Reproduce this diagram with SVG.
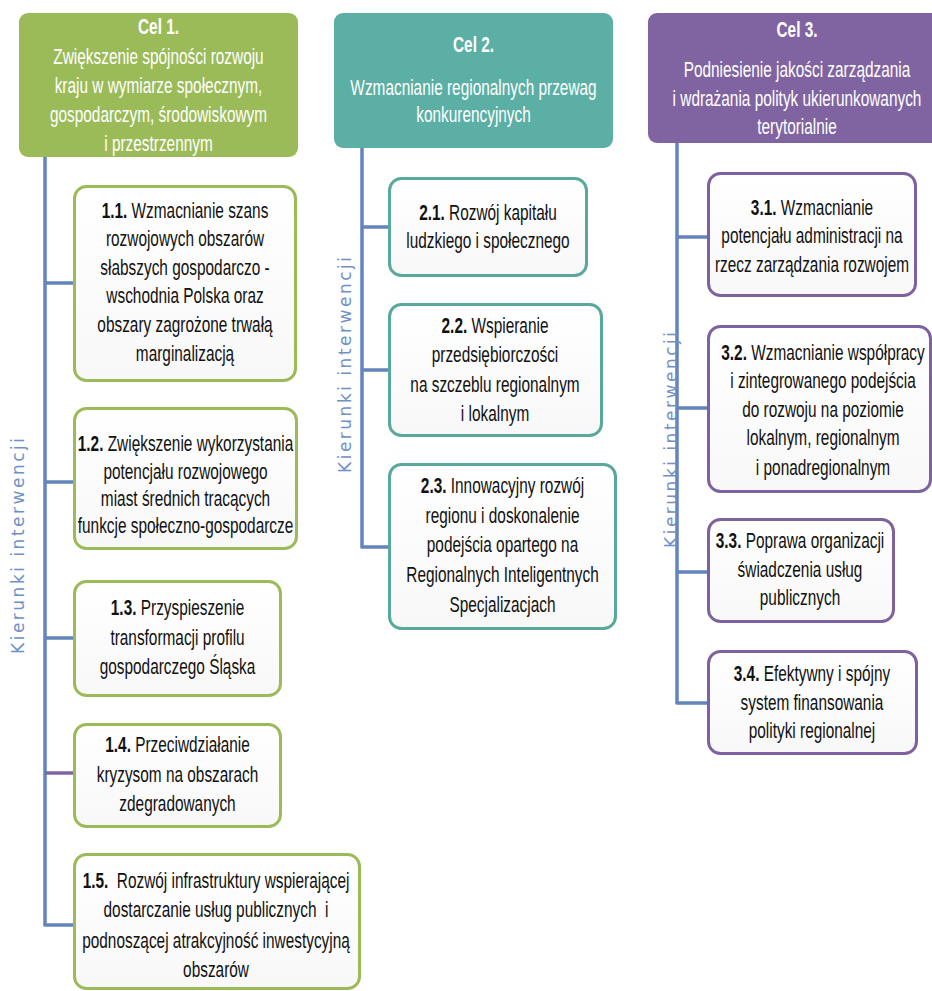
<svg xmlns="http://www.w3.org/2000/svg" width="932" height="991" viewBox="0 0 932 991">
<defs>
<linearGradient id="bg" x1="0" y1="0" x2="0" y2="1">
<stop offset="0" stop-color="#ffffff"/>
<stop offset="1" stop-color="#f8f8f8"/>
</linearGradient>
<style>
.h{font-family:"Liberation Sans",Arial,sans-serif;font-size:22px;fill:#ffffff;text-anchor:middle}
.t{font-family:"Liberation Sans",Arial,sans-serif;font-size:22px;fill:#111111;text-anchor:middle}
.b{font-weight:bold}
.box{fill:url(#bg);stroke-width:3}
.g{stroke:#9BBB59}
.tl{stroke:#58A89C}
.p{stroke:#7E62A0}
.ln{stroke:#6384BC;stroke-width:3.5;fill:none}
.lbl{font-family:"DejaVu Sans",Verdana,sans-serif;font-size:17px;fill:#7090C8;text-anchor:middle}
</style>
</defs>
<rect width="932" height="991" fill="#ffffff"/>

<g id="connectors">
<path class="ln" d="M45 157V926.5M45 283H75M45 482H75M45 638H75M45 925H75"/>
<path d="M45 773H75" stroke="#8064A2" stroke-width="3.5"/>
<path class="ln" d="M362 148V548.5M362 227H390M362 370H390M362 547H390"/>
<path class="ln" d="M677 143V704.5M677 237H709M677 408H709M677 572H709M677 703H709"/>
</g>

<g id="labels">
<text class="lbl" transform="translate(24,546) rotate(-90)" x="0" y="0" textLength="216" lengthAdjust="spacing">Kierunki interwencji</text>
<text class="lbl" transform="translate(351,365) rotate(-90)" x="0" y="0" textLength="216" lengthAdjust="spacing">Kierunki interwencji</text>
<text class="lbl" transform="translate(677,440) rotate(-90)" x="0" y="0" textLength="216" lengthAdjust="spacing">Kierunki interwencji</text>
</g>

<g id="cel1">
<rect x="19" y="13" width="279" height="144" rx="9" fill="#9BBB59"/>
<g transform="translate(158.5,0) scale(0.7,1)">
<text class="h b" x="0" y="34">Cel 1.</text>
<text class="h" x="0" y="64">Zwiększenie spójności rozwoju</text>
<text class="h" x="0" y="93">kraju w wymiarze społecznym,</text>
<text class="h" x="0" y="122">gospodarczym, środowiskowym</text>
<text class="h" x="0" y="151">i przestrzennym</text>
</g>
</g>

<g id="cel2">
<rect x="334" y="13" width="279" height="135" rx="9" fill="#5CAFA4"/>
<g transform="translate(473.5,0) scale(0.7,1)">
<text class="h b" x="0" y="52">Cel 2.</text>
<text class="h" x="0" y="95">Wzmacnianie regionalnych przewag</text>
<text class="h" x="0" y="122">konkurencyjnych</text>
</g>
</g>

<g id="cel3">
<rect x="648" y="13" width="298" height="130" rx="9" fill="#8064A2"/>
<g transform="translate(797,0) scale(0.7,1)">
<text class="h b" x="0" y="37">Cel 3.</text>
<text class="h" x="0" y="77">Podniesienie jakości zarządzania</text>
<text class="h" x="0" y="106">i wdrażania polityk ukierunkowanych</text>
<text class="h" x="0" y="134">terytorialnie</text>
</g>
</g>

<g id="n1_1">
<rect class="box g" x="74.5" y="186.5" width="221" height="194" rx="12"/>
<g transform="translate(185,0) scale(0.7,1)">
<text class="t" x="0" y="218"><tspan class="b">1.1.</tspan> Wzmacnianie szans</text>
<text class="t" x="0" y="246.5">rozwojowych obszarów</text>
<text class="t" x="0" y="275">słabszych gospodarczo -</text>
<text class="t" x="0" y="303.5">wschodnia Polska oraz</text>
<text class="t" x="0" y="332">obszary zagrożone trwałą</text>
<text class="t" x="0" y="361">marginalizacją</text>
</g>
</g>

<g id="n1_2">
<rect class="box g" x="74.5" y="408.5" width="222" height="140" rx="12"/>
<g transform="translate(185.5,0) scale(0.7,1)">
<text class="t" x="0" y="451"><tspan class="b">1.2.</tspan> Zwiększenie wykorzystania</text>
<text class="t" x="0" y="479">potencjału rozwojowego</text>
<text class="t" x="0" y="506">miast średnich tracących</text>
<text class="t" x="0" y="533">funkcje społeczno-gospodarcze</text>
</g>
</g>

<g id="n1_3">
<rect class="box g" x="74.5" y="581.5" width="206" height="114" rx="12"/>
<g transform="translate(177.5,0) scale(0.7,1)">
<text class="t" x="0" y="615"><tspan class="b">1.3.</tspan> Przyspieszenie</text>
<text class="t" x="0" y="645">transformacji profilu</text>
<text class="t" x="0" y="674">gospodarczego Śląska</text>
</g>
</g>

<g id="n1_4">
<rect class="box g" x="74.5" y="724.5" width="206" height="102" rx="12"/>
<g transform="translate(177.5,0) scale(0.7,1)">
<text class="t" x="0" y="752"><tspan class="b">1.4.</tspan> Przeciwdziałanie</text>
<text class="t" x="0" y="782">kryzysom na obszarach</text>
<text class="t" x="0" y="811">zdegradowanych</text>
</g>
</g>

<g id="n1_5">
<rect class="box g" x="74.5" y="854.5" width="285" height="134" rx="12"/>
<g transform="translate(216,0) scale(0.7,1)">
<text class="t" x="0" y="888" xml:space="preserve"><tspan class="b">1.5.</tspan>  Rozwój infrastruktury wspierającej</text>
<text class="t" x="0" y="917" xml:space="preserve">dostarczanie usług publicznych  i</text>
<text class="t" x="0" y="948">podnoszącej atrakcyjność inwestycyjną</text>
<text class="t" x="0" y="977">obszarów</text>
</g>
</g>

<g id="n2_1">
<rect class="box tl" x="389.5" y="178.5" width="197" height="97" rx="12"/>
<g transform="translate(488,0) scale(0.7,1)">
<text class="t" x="0" y="220"><tspan class="b">2.1.</tspan> Rozwój kapitału</text>
<text class="t" x="0" y="248">ludzkiego i społecznego</text>
</g>
</g>

<g id="n2_2">
<rect class="box tl" x="389.5" y="304.5" width="212" height="131" rx="12"/>
<g transform="translate(495,0) scale(0.7,1)">
<text class="t" x="0" y="333"><tspan class="b">2.2.</tspan> Wspieranie</text>
<text class="t" x="0" y="362">przedsiębiorczości</text>
<text class="t" x="0" y="392">na szczeblu regionalnym</text>
<text class="t" x="0" y="421">i lokalnym</text>
</g>
</g>

<g id="n2_3">
<rect class="box tl" x="389.5" y="464.5" width="226" height="164" rx="12"/>
<g transform="translate(502.5,0) scale(0.7,1)">
<text class="t" x="0" y="493"><tspan class="b">2.3.</tspan> Innowacyjny rozwój</text>
<text class="t" x="0" y="523">regionu i doskonalenie</text>
<text class="t" x="0" y="552">podejścia opartego na</text>
<text class="t" x="0" y="582">Regionalnych Inteligentnych</text>
<text class="t" x="0" y="612">Specjalizacjach</text>
</g>
</g>

<g id="n3_1">
<rect class="box p" x="708.5" y="173.5" width="207" height="122" rx="12"/>
<g transform="translate(812,0) scale(0.7,1)">
<text class="t" x="0" y="215"><tspan class="b">3.1.</tspan> Wzmacnianie</text>
<text class="t" x="0" y="243">potencjału administracji na</text>
<text class="t" x="0" y="272">rzecz zarządzania rozwojem</text>
</g>
</g>

<g id="n3_2">
<rect class="box p" x="708.5" y="326.5" width="222" height="165" rx="12"/>
<g transform="translate(823,0) scale(0.7,1)">
<text class="t" x="0" y="360"><tspan class="b">3.2.</tspan> Wzmacnianie współpracy</text>
<text class="t" x="0" y="388">i zintegrowanego podejścia</text>
<text class="t" x="0" y="417">do rozwoju na poziomie</text>
<text class="t" x="0" y="445">lokalnym, regionalnym</text>
<text class="t" x="0" y="475">i ponadregionalnym</text>
</g>
</g>

<g id="n3_3">
<rect class="box p" x="708.5" y="519.5" width="185" height="102" rx="12"/>
<g transform="translate(800,0) scale(0.7,1)">
<text class="t" x="0" y="548"><tspan class="b">3.3.</tspan> Poprawa organizacji</text>
<text class="t" x="0" y="577">świadczenia usług</text>
<text class="t" x="0" y="605">publicznych</text>
</g>
</g>

<g id="n3_4">
<rect class="box p" x="708.5" y="651.5" width="208" height="102" rx="12"/>
<g transform="translate(812,0) scale(0.7,1)">
<text class="t" x="0" y="681"><tspan class="b">3.4.</tspan> Efektywny i spójny</text>
<text class="t" x="0" y="710">system finansowania</text>
<text class="t" x="0" y="738">polityki regionalnej</text>
</g>
</g>
</svg>
